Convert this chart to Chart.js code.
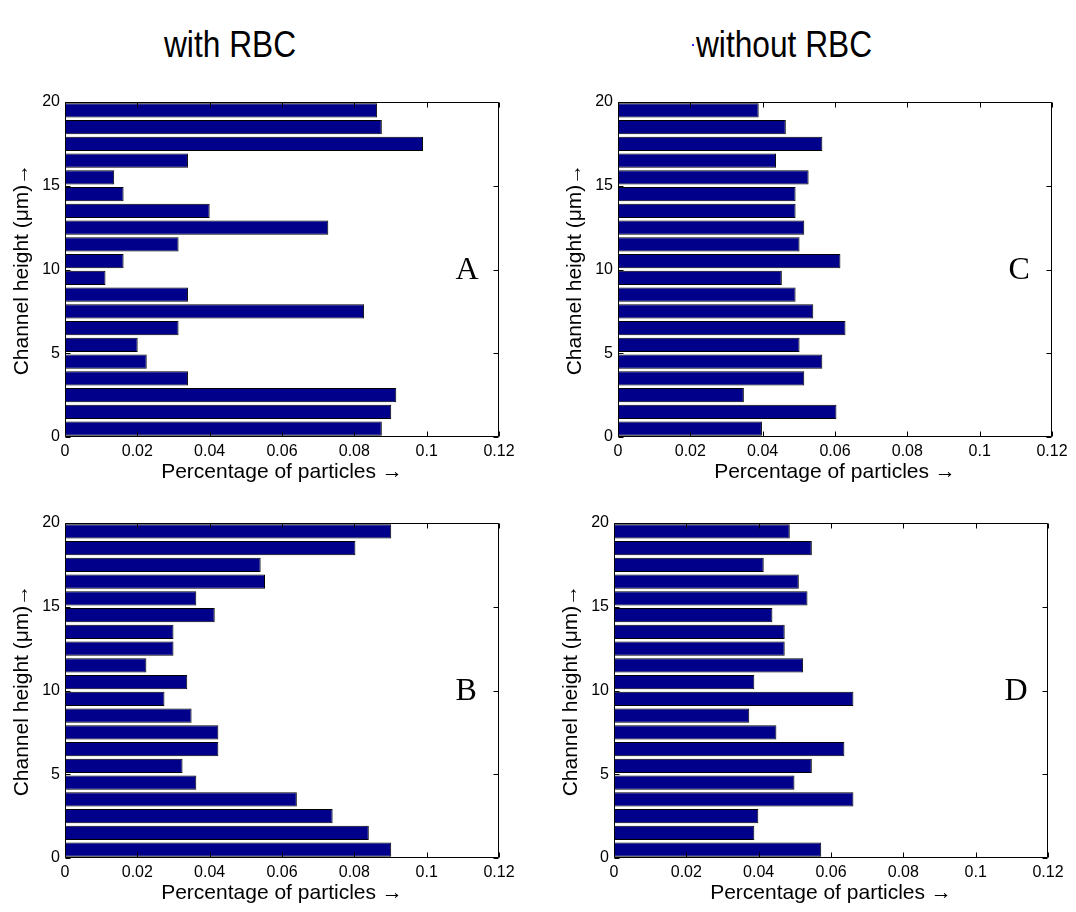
<!DOCTYPE html>
<html>
<head>
<meta charset="utf-8">
<script src="https://cdn.jsdelivr.net/npm/chart.js@4.4.1/dist/chart.umd.min.js"></script>
<style>
  html, body { margin: 0; padding: 0; background: #ffffff; }
  #page { position: relative; width: 1076px; height: 912px; overflow: hidden; background: #ffffff; }
  canvas.panel { position: absolute; left: 0; top: 0; pointer-events: none; }
  .head {
    position: absolute;
    font-family: 'Liberation Sans', Arial, sans-serif;
    font-size: 36px;
    line-height: 36px;
    color: #000000;
    white-space: nowrap;
    transform: translateX(-50%) scaleX(0.88);
    transform-origin: center;
  }
  .speck { position: absolute; width: 2px; height: 2px; background: #2a2aff; }
</style>
</head>
<body>
<div id="page">
  <div class="head" style="left:230px; top:27px;">with RBC</div>
  <div class="head" style="left:784px; top:27px;">without RBC</div>
  <div class="speck" style="left:692px; top:44px;"></div>
  <canvas id="panelA" class="panel" width="1076" height="912"></canvas>
  <canvas id="panelB" class="panel" width="1076" height="912"></canvas>
  <canvas id="panelC" class="panel" width="1076" height="912"></canvas>
  <canvas id="panelD" class="panel" width="1076" height="912"></canvas>
</div>
<script>
// Channel-height bins (µm), bin centres from the channel floor upward
const binCenters = [0.5, 1.5, 2.5, 3.5, 4.5, 5.5, 6.5, 7.5, 8.5, 9.5,
                    10.5, 11.5, 12.5, 13.5, 14.5, 15.5, 16.5, 17.5, 18.5, 19.5];

// Fraction of particles found in each bin (bottom bin first)
const withRbcA = [0.0876, 0.0902, 0.0916, 0.0340, 0.0226, 0.0201, 0.0314, 0.0827, 0.0340, 0.0112,
                  0.0162, 0.0314, 0.0728, 0.0400, 0.0162, 0.0136, 0.0340, 0.0990, 0.0876, 0.0863];
const withRbcB = [0.0902, 0.0840, 0.0740, 0.0641, 0.0363, 0.0325, 0.0424, 0.0424, 0.0350, 0.0275,
                  0.0338, 0.0225, 0.0300, 0.0300, 0.0414, 0.0363, 0.0553, 0.0541, 0.0803, 0.0902];
const withoutRbcC = [0.0398, 0.0604, 0.0348, 0.0515, 0.0565, 0.0502, 0.0629, 0.0540, 0.0491, 0.0453,
                     0.0615, 0.0502, 0.0515, 0.0491, 0.0491, 0.0527, 0.0437, 0.0565, 0.0464, 0.0389];
const withoutRbcD = [0.0573, 0.0388, 0.0399, 0.0662, 0.0499, 0.0547, 0.0637, 0.0449, 0.0374, 0.0662,
                     0.0388, 0.0523, 0.0472, 0.0472, 0.0438, 0.0535, 0.0511, 0.0414, 0.0547, 0.0486];

// Axis ticks
const xTickValues = [0, 0.02, 0.04, 0.06, 0.08, 0.1, 0.12];
const xTickLabels = ['0', '0.02', '0.04', '0.06', '0.08', '0.1', '0.12'];
const yTickValues = [0, 5, 10, 15, 20];
const yTickLabels = ['0', '5', '10', '15', '20'];

// Axis titles and panel tags
const xTitle = 'Percentage of particles \u2192';
const yTitle = 'Channel height (\u03bcm)\u2192';
const panelTags = ['A', 'B', 'C', 'D'];

// Page layout of each plot box
const PAGE_W = 1076, PAGE_H = 912;
const Y_AXIS_W = 65, X_AXIS_H = 60;
const panels = [
  { canvas: 'panelA', tag: panelTags[0], values: withRbcA,    box: { l: 65,  t: 102, r: 499,  b: 437 } },
  { canvas: 'panelB', tag: panelTags[1], values: withRbcB,    box: { l: 65,  t: 523, r: 499,  b: 858 } },
  { canvas: 'panelC', tag: panelTags[2], values: withoutRbcC, box: { l: 618, t: 102, r: 1052, b: 437 } },
  { canvas: 'panelD', tag: panelTags[3], values: withoutRbcD, box: { l: 614, t: 523, r: 1048, b: 858 } }
];

const SANS = "'Liberation Sans', Arial, sans-serif";
const SERIF = "'Liberation Serif', 'Times New Roman', serif";

// Box frame with inward ticks on all four sides, plus the panel tag
const framePlugin = {
  id: 'frameBox',
  afterDraw(chart, args, opts) {
    const { ctx, chartArea: a, scales } = chart;
    const L = Math.round(a.left) + 0.5, R = Math.round(a.right) - 0.5;
    const T = Math.round(a.top) + 0.5, B = Math.round(a.bottom) - 0.5;
    const tick = 5;
    ctx.save();
    ctx.strokeStyle = '#000000';
    ctx.lineWidth = 1;
    ctx.beginPath();
    ctx.rect(L, T, R - L, B - T);
    xTickValues.forEach(v => {
      const px = Math.round(scales.x.getPixelForValue(v)) + 0.5;
      ctx.moveTo(px, B); ctx.lineTo(px, B - tick);
      ctx.moveTo(px, T); ctx.lineTo(px, T + tick);
    });
    yTickValues.forEach(v => {
      const py = Math.round(scales.y.getPixelForValue(v)) + 0.5;
      ctx.moveTo(L, py); ctx.lineTo(L + tick, py);
      ctx.moveTo(R, py); ctx.lineTo(R - tick, py);
    });
    ctx.stroke();

    if (opts.tag) {
      ctx.fillStyle = '#000000';
      ctx.font = '32px ' + SERIF;
      ctx.textAlign = 'left';
      ctx.textBaseline = 'alphabetic';
      ctx.fillText(opts.tag, scales.x.getPixelForValue(opts.tagX), scales.y.getPixelForValue(opts.tagY));
    }
    ctx.restore();
  }
};

function zeroPadding(scale) {
  scale.paddingLeft = 0; scale.paddingRight = 0;
  scale.paddingTop = 0; scale.paddingBottom = 0;
}

panels.forEach(p => {
  const b = p.box;
  new Chart(document.getElementById(p.canvas), {
    type: 'bar',
    data: {
      datasets: [{
        data: binCenters.map((c, i) => ({ x: p.values[i], y: c })),
        backgroundColor: '#00008A',
        borderColor: '#000000',
        borderWidth: 1,
        borderSkipped: false,
        barPercentage: 0.85,
        categoryPercentage: 1.0
      }]
    },
    options: {
      indexAxis: 'y',
      responsive: false,
      animation: false,
      devicePixelRatio: 1,
      layout: {
        autoPadding: false,
        padding: {
          left: b.l - Y_AXIS_W,
          top: b.t,
          right: PAGE_W - b.r,
          bottom: PAGE_H - b.b - X_AXIS_H
        }
      },
      plugins: {
        legend: { display: false },
        tooltip: { enabled: false },
        title: { display: false },
        frameBox: { tag: p.tag, tagX: 0.108, tagY: 9.45 }
      },
      scales: {
        x: {
          type: 'linear',
          position: 'bottom',
          min: 0,
          max: 0.12,
          offset: false,
          grid: { display: false, drawTicks: false, offset: false },
          border: { display: false },
          afterBuildTicks(scale) { scale.ticks = xTickValues.map(v => ({ value: v })); },
          afterFit(scale) { scale.height = X_AXIS_H; zeroPadding(scale); },
          ticks: {
            autoSkip: false,
            maxRotation: 0,
            minRotation: 0,
            padding: 5,
            color: '#000000',
            font: { family: SANS, size: 16 },
            callback: (v, i) => xTickLabels[i]
          },
          title: {
            display: true,
            text: xTitle,
            color: '#000000',
            font: { family: SANS, size: 21 },
            padding: { top: 0, bottom: 12 }
          }
        },
        y: {
          type: 'linear',
          position: 'left',
          min: 0,
          max: 20,
          offset: false,
          grid: { display: false, drawTicks: false, offset: false },
          border: { display: false },
          afterBuildTicks(scale) { scale.ticks = yTickValues.map(v => ({ value: v })); },
          afterFit(scale) { scale.width = Y_AXIS_W; zeroPadding(scale); },
          ticks: {
            autoSkip: false,
            padding: 5,
            color: '#000000',
            font: { family: SANS, size: 16 },
            callback: (v, i) => yTickLabels[i]
          },
          title: {
            display: true,
            text: yTitle,
            color: '#000000',
            font: { family: SANS, size: 21 },
            padding: { top: 10, bottom: 0 }
          }
        }
      }
    },
    plugins: [framePlugin]
  });
});
</script>
</body>
</html>
